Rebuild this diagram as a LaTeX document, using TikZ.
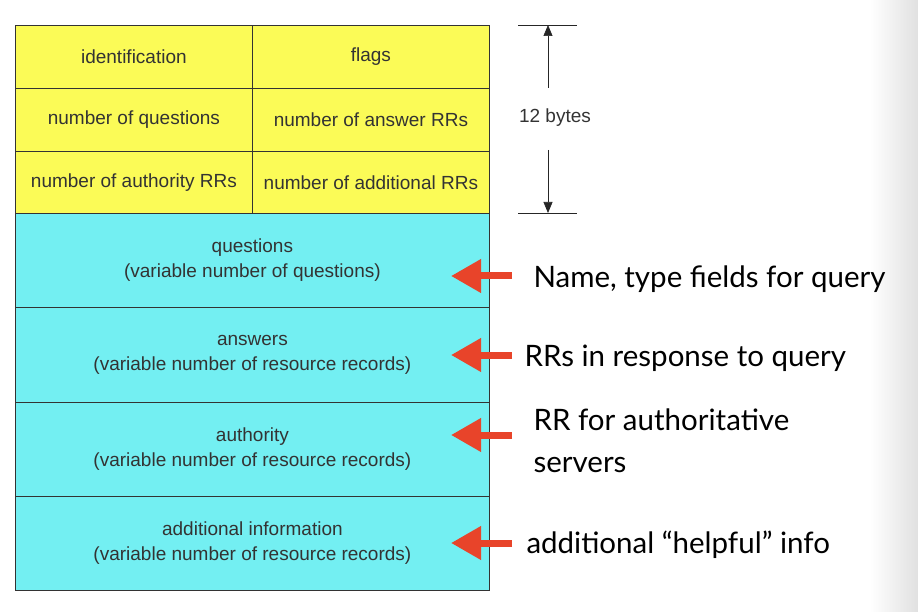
\documentclass[tikz,border=0pt]{standalone}
\usepackage{fontspec}
\setmainfont{Liberation Sans}
\newfontfamily\notefont{Lato}
\usetikzlibrary{arrows.meta}
\definecolor{hdr}{HTML}{FBFB57}
\definecolor{body}{HTML}{73EFF2}
\definecolor{redarr}{HTML}{E8442A}
\definecolor{txt}{HTML}{333333}
\begin{document}
\begin{tikzpicture}[x=1pt,y=-1pt,
  cell/.style={draw=black!80,line width=0.8pt,text=txt,font=\fontsize{19}{25}\selectfont,align=center},
  hcell/.style={cell,fill=hdr},
  bcell/.style={cell,fill=body},
  note/.style={font=\notefont\fontsize{29.5}{42}\selectfont,anchor=west,align=left},
  redarrow/.style={redarr,line width=7pt,-{Triangle[length=30pt,width=32pt]}},
  dim/.style={line width=0.7pt,black!85}]
\useasboundingbox (0,0) rectangle (918,612);
\shade[left color=white,right color=black!12] (870,0) rectangle (918,612);
% header cells
\node[hcell,minimum width=237pt,minimum height=63pt,anchor=north west] (id) at (15,25) {identification};
\node[hcell,minimum width=237pt,minimum height=63pt,anchor=north west] (fl) at (252,25) {flags};
\node[hcell,minimum width=237pt,minimum height=63pt,anchor=north west] (nq) at (15,88) {number of questions};
\node[hcell,minimum width=237pt,minimum height=63pt,anchor=north west] (na) at (252,88) {number of answer RRs};
\node[hcell,minimum width=237pt,minimum height=62pt,anchor=north west] (nau) at (15,151) {number of authority RRs};
\node[hcell,minimum width=237pt,minimum height=62pt,anchor=north west] (nad) at (252,151) {number of additional RRs};
% body cells
\node[bcell,minimum width=474pt,minimum height=94pt,anchor=north west] (q) at (15,213) {questions\\(variable number of questions)};
\node[bcell,minimum width=474pt,minimum height=95pt,anchor=north west] (an) at (15,307) {answers\\(variable number of resource records)};
\node[bcell,minimum width=474pt,minimum height=94pt,anchor=north west] (au) at (15,402) {authority\\(variable number of resource  records)};
\node[bcell,minimum width=474pt,minimum height=94pt,anchor=north west] (ad) at (15,496) {additional information\\(variable number of resource records)};
% 12 bytes dimension
\coordinate (t1) at (518,25); \coordinate (t2) at (577,25);
\coordinate (b1) at (518,213); \coordinate (b2) at (577,213);
\draw[dim] (t1) -- (t2);
\draw[dim] (b1) -- (b2);
\node[text=txt,font=\fontsize{19}{22}\selectfont] (tw) at (555,118) {12 bytes};
\coordinate (up0) at (548,88); \coordinate (up1) at (548,25);
\coordinate (dn0) at (548,150); \coordinate (dn1) at (548,213);
\draw[dim,-{Triangle[length=11pt,width=9pt]}] (up0) -- (up1);
\draw[dim,-{Triangle[length=11pt,width=9pt]}] (dn0) -- (dn1);
% notes
\node[note] (n1) at (530,279) {Name, type fields for query};
\node[note] (n2) at (521,358) {RRs in response to query};
\node[note] (n3) at (530,441) {RR for authoritative\\servers};
\node[note] (n4) at (523,545) {additional “helpful” info};
% red arrows
\coordinate (a1) at (512,276); \coordinate (a1t) at (451,276);
\coordinate (a2) at (512,355); \coordinate (a2t) at (451,355);
\coordinate (a3) at (512,435); \coordinate (a3t) at (451,435);
\coordinate (a4) at (512,543); \coordinate (a4t) at (451,543);
\draw[redarrow] (a1) -- (a1t);
\draw[redarrow] (a2) -- (a2t);
\draw[redarrow] (a3) -- (a3t);
\draw[redarrow] (a4) -- (a4t);
\end{tikzpicture}
\end{document}
